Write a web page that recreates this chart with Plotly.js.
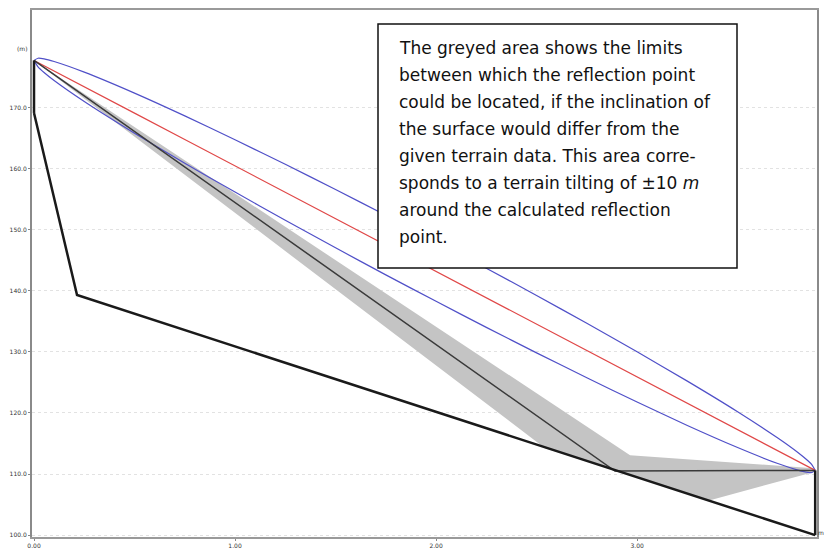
<!DOCTYPE html>
<html>
<head>
<meta charset="utf-8">
<script src="https://cdn.plot.ly/plotly-3.0.1.min.js"></script>
<style>html,body{margin:0;padding:0;background:#fff;}#chart{width:824px;height:552px;}</style>
</head>
<body>
<div id="chart"></div>
<script>
// Terrain profile (distance, height)
var terrainX = [0, 0.214, 3.886];
var terrainY = [169.1, 139.3, 100.0];
// Antenna masts
var txMastX = [0, 0];
var txMastY = [169.1, 177.7];
var rxMastX = [3.886, 3.886];
var rxMastY = [100.0, 110.6];
// Direct path (red)
var pathX = [0, 0.02, 0.05, 0.1, 0.25, 0.5, 0.75, 1.0, 1.25, 1.5, 1.75, 2.0, 2.25, 2.5, 2.75, 3.0, 3.25, 3.5, 3.7, 3.8, 3.85, 3.87, 3.886];
var directY = [177.70, 177.35, 176.84, 175.97, 173.38, 169.07, 164.75, 160.43, 156.12, 151.80, 147.48, 143.17, 138.85, 134.53, 130.22, 125.90, 121.58, 117.27, 113.81, 112.09, 111.22, 110.88, 110.60];
// Fresnel zone limits (blue)
var fresnelUpperY = [177.70, 178.05, 177.95, 177.52, 175.78, 172.35, 168.62, 164.71, 160.70, 156.57, 152.36, 148.07, 143.69, 139.22, 134.68, 130.01, 125.21, 120.20, 115.90, 113.53, 112.17, 111.51, 110.60];
var fresnelLowerY = [177.70, 176.65, 175.73, 174.42, 170.98, 165.79, 160.88, 156.15, 151.54, 147.03, 142.60, 138.27, 134.01, 129.84, 125.76, 121.79, 117.95, 114.34, 111.72, 110.65, 110.27, 110.25, 110.60];
// Reflected path (dark grey)
var reflX = [0, 2.89, 3.886];
var reflY = [177.7, 110.5, 110.6];
// Greyed area (possible reflection point limits)
var greyX = [0, 2.965, 3.876, 3.876, 3.363, 2.542, 0];
var greyY = [177.7, 113.09, 110.97, 110.31, 105.73, 114.24, 177.7];
// Ticks
var yTickVals = [100, 110, 120, 130, 140, 150, 160, 170];
var yTickText = ["100.0", "110.0", "120.0", "130.0", "140.0", "150.0", "160.0", "170.0"];
var xTickVals = [0, 1, 2, 3];
var xTickText = ["0.00", "1.00", "2.00", "3.00"];
// Note text
var noteLines = [
  "The greyed area shows the limits",
  "between which the reflection point",
  "could be located, if the inclination of",
  "the surface would differ from the",
  "given terrain data. This area corre-",
  "sponds to a terrain tilting of \u00b110 <i>m</i>",
  "around the calculated reflection",
  "point."
];

var traces = [
  {x: greyX, y: greyY, mode: 'lines', fill: 'toself', fillcolor: '#c4c4c4', line: {width: 0, color: '#c4c4c4'}, hoverinfo: 'skip'},
  {x: pathX, y: fresnelUpperY, mode: 'lines', line: {color: '#5050c8', width: 1.2, shape: 'spline', smoothing: 0.6}},
  {x: pathX, y: fresnelLowerY, mode: 'lines', line: {color: '#5050c8', width: 1.2, shape: 'spline', smoothing: 0.6}},
  {x: pathX, y: directY, mode: 'lines', line: {color: '#e04848', width: 1.2}},
  {x: reflX, y: reflY, mode: 'lines', line: {color: '#3a3a3a', width: 1.5}},
  {x: terrainX, y: terrainY, mode: 'lines', line: {color: '#1a1a1a', width: 2.5}},
  {x: txMastX, y: txMastY, mode: 'lines', line: {color: '#1a1a1a', width: 2.5}},
  {x: rxMastX, y: rxMastY, mode: 'lines', line: {color: '#1a1a1a', width: 2.5}}
];

var plotTop = 10, plotH = 527, plotLeft = 32, plotW = 785;
function px2paperX(px) { return (px - plotLeft) / plotW; }
function px2paperY(py) { return 1 - (py - plotTop) / plotH; }

var annotations = noteLines.map(function (t, i) {
  return {
    text: t, xref: 'paper', yref: 'paper',
    x: px2paperX(397), y: px2paperY(48 + i * 27),
    xanchor: 'left', yanchor: 'middle', showarrow: false,
    font: {family: 'DejaVu Sans', size: 17, color: '#111'}
  };
});
annotations.push({text: '(m)', xref: 'paper', yref: 'paper', x: px2paperX(22), y: px2paperY(48),
  xanchor: 'center', yanchor: 'middle', showarrow: false, font: {family: 'DejaVu Sans', size: 6, color: '#333'}});
annotations.push({text: 'm', xref: 'paper', yref: 'paper', x: px2paperX(821), y: px2paperY(532),
  xanchor: 'center', yanchor: 'middle', showarrow: false, font: {family: 'DejaVu Sans', size: 6, color: '#333'}});

var layout = {
  width: 824, height: 552,
  margin: {l: plotLeft, r: 824 - plotLeft - plotW, t: plotTop, b: 552 - plotTop - plotH, pad: 0},
  paper_bgcolor: '#fff', plot_bgcolor: '#fff',
  showlegend: false,
  xaxis: {
    range: [-0.01, 3.895], showgrid: false, zeroline: false,
    showline: true, linecolor: '#9a9a9a', linewidth: 2, mirror: true,
    tickvals: xTickVals, ticktext: xTickText, ticks: 'outside', ticklen: 2, tickcolor: '#888',
    tickfont: {family: 'DejaVu Sans', size: 6, color: '#333'}
  },
  yaxis: {
    range: [99.7, 185.95], showgrid: true, gridcolor: '#e2e2e2', griddash: 'dot', gridwidth: 1,
    zeroline: false, showline: true, linecolor: '#8a8a8a', linewidth: 2, mirror: true,
    tickvals: yTickVals, ticktext: yTickText, ticks: 'outside', ticklen: 2, tickcolor: '#888',
    tickfont: {family: 'DejaVu Sans', size: 6, color: '#333'}
  },
  shapes: [{
    type: 'rect', xref: 'paper', yref: 'paper',
    x0: px2paperX(378), x1: px2paperX(737), y0: px2paperY(268), y1: px2paperY(24),
    line: {color: '#111', width: 1.5}, fillcolor: '#fff', layer: 'above'
  }],
  annotations: annotations
};

Plotly.newPlot('chart', traces, layout, {staticPlot: true, displayModeBar: false});
</script>
</body>
</html>
